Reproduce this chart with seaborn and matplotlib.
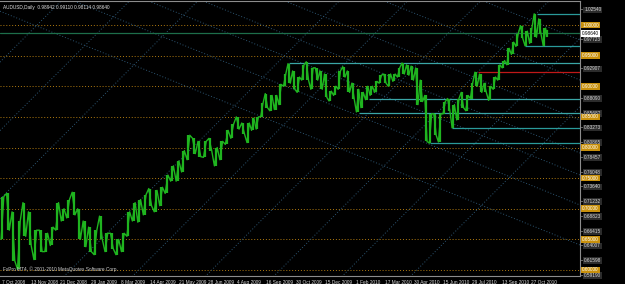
"""AUDUSD daily chart (MT4 screenshot) redrawn with seaborn / matplotlib."""
import numpy as np
import pandas as pd
import matplotlib
matplotlib.use("Agg")
import matplotlib.pyplot as plt
import seaborn as sns

# ---------------------------------------------------------------------------
# data
# ---------------------------------------------------------------------------
header_text = "AUDUSD,Daily  0.98942 0.99110 0.98114 0.98640"
copyright_text = "FxPro MT4, \u00a9 2001-2010 MetaQuotes Software Corp."

# weekly range of the daily bars, weeks start Monday 6 Oct 2008
first_week = "2008-10-06"
last_day = "2010-11-22"
week_high = [
    0.7200, 0.7250, 0.6950, 0.6800, 0.7100, 0.6950, 0.6650, 0.6650, 0.6600, 0.6700,
    0.7100, 0.7000, 0.7150, 0.7270, 0.7000, 0.6800, 0.6700, 0.6650, 0.6880, 0.6600,
    0.6600, 0.6500, 0.6600, 0.6950, 0.7100, 0.7150, 0.7230, 0.7330, 0.7300, 0.7350,
    0.7550, 0.7700, 0.7780, 0.7950, 0.8200, 0.8150, 0.8100, 0.8100, 0.8150, 0.8000,
    0.8100, 0.8280, 0.8380, 0.8500, 0.8400, 0.8400, 0.8480, 0.8500, 0.8720, 0.8880,
    0.8850, 0.8850, 0.9030, 0.9200, 0.9370, 0.9250, 0.9150, 0.9350, 0.9400, 0.9300,
    0.9300, 0.9250, 0.9200, 0.8920, 0.9000, 0.9250, 0.9320, 0.9250, 0.9050, 0.8950,
    0.8900, 0.9000, 0.9000, 0.9080, 0.9180, 0.9200, 0.9200, 0.9200, 0.9300, 0.9380,
    0.9350, 0.9330, 0.9300, 0.9100, 0.8850, 0.8550, 0.8550, 0.8550, 0.8750, 0.8800,
    0.8700, 0.8800, 0.8900, 0.8850, 0.9050, 0.9230, 0.9200, 0.9050, 0.9000, 0.9150,
    0.9350, 0.9420, 0.9620, 0.9720, 0.9860, 0.9990, 0.9900, 0.9950, 1.0183, 1.0100,
    0.9950, 0.9911,
]
week_low = [
    0.6500, 0.6650, 0.6150, 0.6010, 0.6550, 0.6400, 0.6170, 0.6300, 0.6300, 0.6400,
    0.6650, 0.6800, 0.6850, 0.6900, 0.6500, 0.6380, 0.6300, 0.6250, 0.6500, 0.6300,
    0.6350, 0.6250, 0.6300, 0.6550, 0.6800, 0.6780, 0.6900, 0.7050, 0.6950, 0.7050,
    0.7250, 0.7450, 0.7450, 0.7600, 0.7800, 0.7900, 0.7850, 0.7840, 0.7950, 0.7700,
    0.7800, 0.8050, 0.8150, 0.8300, 0.8220, 0.8080, 0.8280, 0.8300, 0.8500, 0.8650,
    0.8600, 0.8620, 0.8700, 0.9000, 0.9050, 0.8950, 0.8900, 0.9100, 0.9100, 0.8950,
    0.9100, 0.8950, 0.8820, 0.8760, 0.8850, 0.8950, 0.9150, 0.8900, 0.8800, 0.8580,
    0.8650, 0.8780, 0.8850, 0.8900, 0.9050, 0.9050, 0.9000, 0.9080, 0.9150, 0.9200,
    0.9180, 0.9100, 0.8700, 0.8750, 0.8100, 0.8070, 0.8200, 0.8090, 0.8550, 0.8600,
    0.8320, 0.8450, 0.8650, 0.8600, 0.8800, 0.9000, 0.8900, 0.8900, 0.8770, 0.8950,
    0.9100, 0.9300, 0.9350, 0.9520, 0.9650, 0.9780, 0.9660, 0.9700, 0.9800, 0.9850,
    0.9660, 0.9811,
]

date_labels = [
    "7 Oct 2008", "13 Nov 2008", "21 Dec 2008", "29 Jan 2009", "8 Mar 2009",
    "14 Apr 2009", "21 May 2009", "28 Jun 2009", "4 Aug 2009", "16 Sep 2009",
    "30 Oct 2009", "15 Dec 2009", "1 Feb 2010", "17 Mar 2010", "30 Apr 2010",
    "15 Jun 2010", "29 Jul 2010", "13 Sep 2010", "27 Oct 2010",
]

price_labels = [
    1.02540, 0.97723, 0.92907, 0.88090, 0.85682, 0.83273, 0.80865, 0.78457,
    0.76048, 0.73640, 0.71232, 0.68823, 0.66415, 0.64007, 0.61598, 0.59190,
]
round_levels = [1.00, 0.95, 0.90, 0.85, 0.80, 0.75, 0.70, 0.65, 0.60]
last_price = 0.98640

# horizontal support / resistance objects
level_prices = [1.0183, 0.9657, 0.9375, 0.9233, 0.8790, 0.8560, 0.8320, 0.8070]
level_starts = ["2010-11-05", "2010-10-19", "2009-10-21", "2010-08-06",
                "2010-02-22", "2010-02-05", "2010-06-29", "2010-05-25"]
level_colors = ["#2a9a9a", "#2a9a9a", "#3aa6a6", "#c01818",
                "#3aa6a6", "#3aa6a6", "#2a9a9a", "#2a9a9a"]

# dotted channel lines: bar where each rising line passes 0.60,
# price where each falling line meets the right edge
rise_cross_bar = [-230, -155, -80, 75, 150, 230, 305, 380, 455]
fall_end_price = [0.9755, 0.9102, 0.8449, 0.7910, 0.7551, 0.7061, 0.6408]

# ---------------------------------------------------------------------------
FIRST_BAR = np.datetime64("2008-10-07")
SUNDAY_BARS_END = np.datetime64("2009-08-13")   # broker dropped Sunday bars
X_LEFT, X_RIGHT = -2.2, 634
Y_LOW, Y_HIGH = 0.5902, 1.0392
RISE_SLOPE = 0.00149    # price per bar
FALL_SLOPE = -0.00060

BAR_GREEN = "#1fb41f"
ORANGE = "#b07a10"
DIAG = "#2d5673"
AXIS_GREY = "#8c8c8c"


def bar_index(day):
    """MT4 bar number counted from the first bar on the chart."""
    day = np.datetime64(pd.Timestamp(day).date(), "D")
    early = np.busday_count(FIRST_BAR, min(day, SUNDAY_BARS_END), weekmask="1111101")
    late = 0
    if day > SUNDAY_BARS_END:
        late = np.busday_count(SUNDAY_BARS_END, day, weekmask="1111100")
    return int(early + late)


sns.set_theme(style="dark", rc={
    "figure.facecolor": "black",
    "axes.facecolor": "black",
    "savefig.facecolor": "black",
})
plt.rcParams["font.family"] = ["Liberation Sans", "DejaVu Sans"]

fig = plt.figure(figsize=(6.25, 2.84), dpi=100)
ax = fig.add_axes([0, 8 / 284, 580 / 625, 275 / 284])

# weekly ranges of the daily bars
mondays = pd.date_range(first_week, periods=len(week_high), freq="W-MON")
end_bar = bar_index(pd.Timestamp(last_day) + pd.Timedelta(days=1))
weeks = pd.DataFrame({"high": week_high, "low": week_low})
weeks["left"] = [bar_index(d - pd.Timedelta(days=1)) for d in mondays]
weeks["right"] = [min(bar_index(d + pd.Timedelta(days=5)), end_bar) for d in mondays]
weeks["mid"] = (weeks["left"] + weeks["right"]) / 2 - 0.5
weeks["span"] = weeks["right"] - weeks["left"]

# a zig-zag trace through each week's extremes, going the way the next week moves
trace = []
for i, w in weeks.iterrows():
    nxt = weeks.iloc[min(i + 1, len(weeks) - 1)]
    up = (nxt["high"] + nxt["low"]) >= (w["high"] + w["low"])
    first, second = (w["low"], w["high"]) if up else (w["high"], w["low"])
    trace.append({"bar": w["mid"] - w["span"] * 0.25, "price": first})
    trace.append({"bar": w["mid"] + w["span"] * 0.25, "price": second})
trace = pd.DataFrame(trace)

# round-number levels (orange dotted)
for lvl in round_levels:
    ax.axhline(lvl, color=ORANGE, lw=0.7, ls=(0, (1, 2)), zorder=1)

# dotted channel lines
rows = []
for i, cb in enumerate(rise_cross_bar):
    for x in (X_LEFT, X_RIGHT):
        rows.append({"line": f"r{i}", "bar": x, "price": 0.60 + RISE_SLOPE * (x - cb)})
for i, ep in enumerate(fall_end_price):
    for x in (X_LEFT, X_RIGHT):
        rows.append({"line": f"f{i}", "bar": x, "price": ep + FALL_SLOPE * (x - X_RIGHT)})
diag = pd.DataFrame(rows)
sns.lineplot(data=diag, x="bar", y="price", units="line", estimator=None,
             color=DIAG, lw=0.7, linestyle=(0, (1, 2)), ax=ax, legend=False, zorder=1)

# horizontal objects
for p, start, c in zip(level_prices, level_starts, level_colors):
    ax.hlines(p, bar_index(start), X_RIGHT, color=c, lw=0.9, zorder=2)
ax.axhline(last_price, color="#1d6e4a", lw=0.9, zorder=2)

# price bars
ax.vlines(weeks["mid"], weeks["low"], weeks["high"], color=BAR_GREEN, lw=1.6, zorder=3)
sns.lineplot(data=trace, x="bar", y="price", sort=False, estimator=None,
             color=BAR_GREEN, lw=1.0, ax=ax, zorder=3)

ax.set_xlim(X_LEFT, X_RIGHT)
ax.set_ylim(Y_LOW, Y_HIGH)
ax.set_xlabel("")
ax.set_ylabel("")

# axes frame like MT4
for side in ("top", "right", "bottom"):
    ax.spines[side].set_visible(True)
    ax.spines[side].set_color(AXIS_GREY)
    ax.spines[side].set_linewidth(0.8)
ax.spines["left"].set_visible(False)

ax.set_xticks([bar_index(pd.Timestamp(d)) for d in date_labels])
ax.set_xticklabels(date_labels, ha="left")
ax.yaxis.tick_right()
ax.set_yticks(price_labels)
ax.set_yticklabels([f"{p:.5f}" for p in price_labels])
ax.tick_params(axis="both", which="both", colors=AXIS_GREY, labelcolor="#d8d8d8",
               labelsize=3.4, length=2, width=0.5, pad=1.0)
for lbl in ax.get_yticklabels():
    lbl.set_bbox(dict(facecolor="#2c2c2c", edgecolor="none", pad=0.6))

# level labels on the price scale
trans = ax.get_yaxis_transform()
for lvl in round_levels:
    ax.text(1.004, lvl, f"{lvl:.5f}", transform=trans, fontsize=3.4, color="white",
            va="center", ha="left", clip_on=False, zorder=5,
            bbox=dict(facecolor="#c8900c", edgecolor="none", pad=0.6))
ax.text(1.004, last_price, f"{last_price:.5f}", transform=trans, fontsize=3.4,
        color="black", va="center", ha="left", clip_on=False, zorder=6,
        bbox=dict(facecolor="white", edgecolor="none", pad=0.6))

ax.text(0.005, 0.985, header_text, transform=ax.transAxes, fontsize=3.4,
        color="#e0e0e0", va="top", ha="left")
ax.text(0.005, 0.015, copyright_text, transform=ax.transAxes, fontsize=3.4,
        color="#d0d0d0", va="bottom", ha="left", zorder=6)

fig.savefig("out.png", dpi=100)
